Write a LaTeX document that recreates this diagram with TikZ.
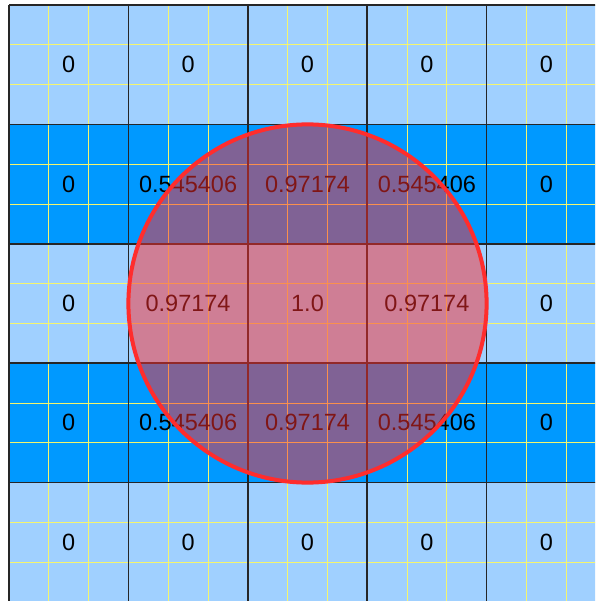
\documentclass[tikz,border=0pt]{standalone}
\usepackage{fontspec}
\setmainfont{Liberation Sans}
\usetikzlibrary{positioning}
\definecolor{cellLight}{RGB}{160,208,255}
\definecolor{cellDark}{RGB}{0,153,255}
\definecolor{subLine}{RGB}{245,245,110}
\definecolor{kernelRed}{RGB}{255,45,45}

\begin{document}
\begin{tikzpicture}[x=119.4pt, y=119.4pt,
    cellval/.style={font=\fontsize{23.5}{27}\selectfont, text=black, inner sep=0pt},
    gridline/.style={black!85, line width=1.6pt},
    subline/.style={subLine, line width=0.9pt}]
    \useasboundingbox (0pt,0pt) rectangle (595pt,-601pt);
    \clip (0pt,0pt) rectangle (595pt,-601pt);
    \begin{scope}[shift={(9pt,-5pt)}]
        % Row backgrounds
        \foreach \r/\col in {0/cellLight, 1/cellDark, 2/cellLight, 3/cellDark, 4/cellLight} {
            \fill[\col] (0,-\r) rectangle (5,-\r-1);
        }
        % Sub-cell lines (thirds)
        \foreach \k in {0,...,15} {
            \draw[subline] (\k/3,0) -- (\k/3,-5);
            \draw[subline] (0,-\k/3) -- (5,-\k/3);
        }
        % Cell borders
        \foreach \k in {0,...,5} {
            \draw[gridline] (\k,0) -- (\k,-5);
            \draw[gridline] (0,-\k) -- (5,-\k);
        }
        % Cell values
        \foreach \row [count=\r from 0] in {{0,0,0,0,0},
                {0,0.545406,0.97174,0.545406,0},
                {0,0.97174,1.0,0.97174,0},
                {0,0.545406,0.97174,0.545406,0},
                {0,0,0,0,0}} {
            \foreach \v [count=\c from 0] in \row {
                \node[cellval] (v\r\c) at (\c+0.5,-\r-0.5) {\v};
            }
        }
        % Kernel disc
        \draw[kernelRed, line width=4pt, fill=kernelRed, fill opacity=0.5]
            (2.5,-2.5) circle (1.5);
    \end{scope}
\end{tikzpicture}
\end{document}
